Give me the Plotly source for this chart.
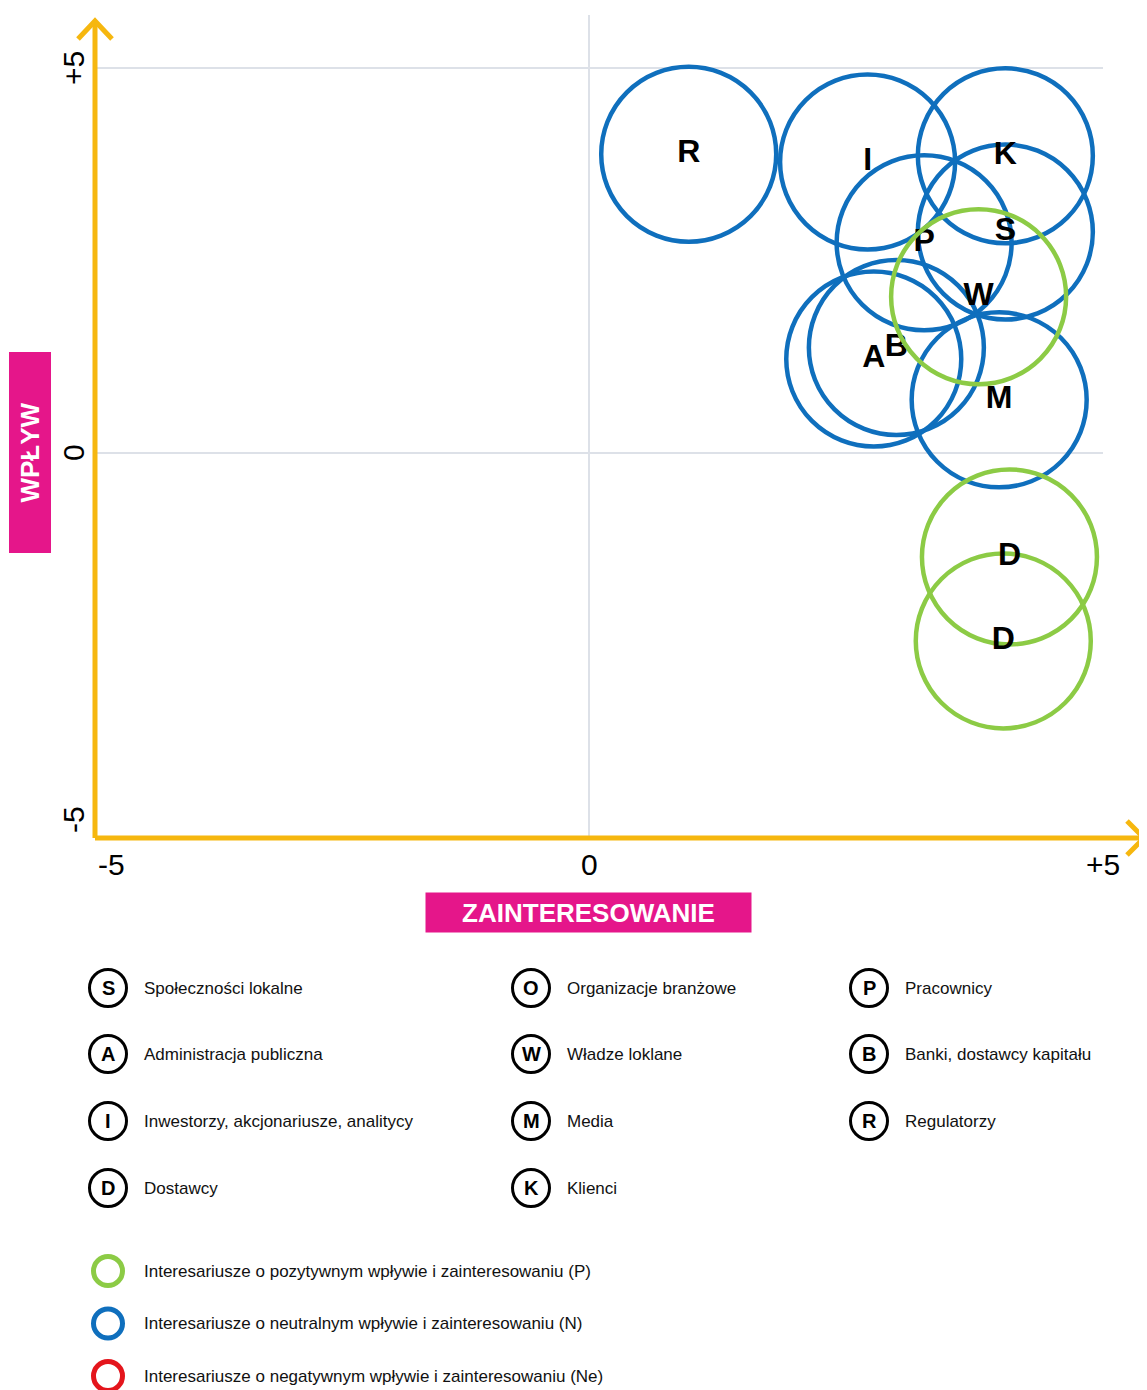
import plotly.graph_objects as go

# Stakeholder positions: interest (x) and influence (y), scale -5..+5
labels = ["R", "I", "K", "S", "P", "W", "A", "B", "M", "D", "D"]
interest = [0.97, 2.71, 4.05, 4.05, 3.26, 3.79, 2.77, 2.99, 3.99, 4.09, 4.03]
influence = [3.88, 3.78, 3.86, 2.87, 2.73, 2.03, 1.22, 1.37, 0.69, -1.35, -2.44]
group = ["N", "N", "N", "N", "N", "P", "N", "N", "N", "P", "P"]

# Legend entries (three columns)
legend_codes = [["S", "A", "I", "D"], ["O", "W", "M", "K"], ["P", "B", "R"]]
legend_names = [
    ["Społeczności lokalne", "Administracja publiczna",
     "Inwestorzy, akcjonariusze, analitycy", "Dostawcy"],
    ["Organizacje branżowe", "Władze loklane", "Media", "Klienci"],
    ["Pracownicy", "Banki, dostawcy kapitału", "Regulatorzy"],
]
group_codes = ["P", "N", "Ne"]
group_names = [
    "Interesariusze o pozytywnym wpływie i zainteresowaniu (P)",
    "Interesariusze o neutralnym wpływie i zainteresowaniu (N)",
    "Interesariusze o negatywnym wpływie i zainteresowaniu (Ne)",
]
group_colors = {"P": "#8CCB45", "N": "#0F6FBD", "Ne": "#E4151C"}

YELLOW = "#F6B70F"
MAGENTA = "#E5168A"
FONT = "Liberation Sans, Arial"

# page body adds an 8px margin, so the figure is shrunk by that much
OFF = 8
W, H = 1147 - OFF, 1390 - OFF
# plot area in screen pixels
SX0, SX1, SY0, SY1 = 95, 1103, 15, 838
PW, PH = SX1 - SX0, SY1 - SY0


def px(x):
    return (x - SX0) / PW


def py(y):
    return (SY1 - y) / PH


def note(x, y, text, **kw):
    d = dict(x=px(x), y=py(y), xref="paper", yref="paper", text=text,
             showarrow=False, xanchor="center", yanchor="middle")
    d.update(kw)
    return d


fig = go.Figure()

for g in ["N", "P"]:
    idx = [i for i, v in enumerate(group) if v == g]
    fig.add_trace(go.Scatter(
        x=[interest[i] for i in idx],
        y=[influence[i] for i in idx],
        text=[labels[i] for i in idx],
        mode="markers+text",
        textposition="middle center",
        textfont=dict(family=FONT, size=32, color="black", weight="bold"),
        marker=dict(symbol="circle-open", size=175, color=group_colors[g],
                    line=dict(width=4.5, color=group_colors[g])),
        showlegend=False,
        cliponaxis=False,
    ))

shapes = []
# Yellow axes with open arrowheads
shapes.append(dict(type="line", xref="paper", yref="paper", x0=0, y0=0,
                   x1=0, y1=py(22), line=dict(color=YELLOW, width=5)))
shapes.append(dict(type="line", xref="paper", yref="paper", x0=0, y0=0,
                   x1=px(1143), y1=0, line=dict(color=YELLOW, width=5)))
shapes.append(dict(type="path", xref="paper", yref="paper",
                   path=f"M {px(78)} {py(39)} L {px(95)} {py(21)} L {px(112)} {py(39)}",
                   line=dict(color=YELLOW, width=5)))
shapes.append(dict(type="path", xref="paper", yref="paper",
                   path=f"M {px(1127)} {py(821)} L {px(1144)} {py(838)} L {px(1127)} {py(855)}",
                   line=dict(color=YELLOW, width=5)))

annotations = []
tick_font = dict(family=FONT, size=30, color="black")
# y tick labels (rotated)
for val, txt, shift in [(5, "+5", 0), (0, "0", 0), (-5, "-5", 18)]:
    annotations.append(dict(x=px(73), xref="paper", y=val, yref="y", text=txt,
                            textangle=-90, showarrow=False, font=tick_font,
                            xanchor="center", yanchor="middle", yshift=shift))
# x tick labels
annotations.append(note(96, 864, "-5", xanchor="left", font=tick_font))
for val, txt in [(0, "0"), (5, "+5")]:
    annotations.append(dict(x=val, xref="x", y=py(864), yref="paper", text=txt,
                            showarrow=False, font=tick_font,
                            xanchor="center", yanchor="middle"))

# axis titles in magenta boxes
annotations.append(note(588.5, 912.5, "<b>ZAINTERESOWANIE</b>",
                        font=dict(family=FONT, size=26, color="white"),
                        bgcolor=MAGENTA, width=321, height=35, borderpad=2))
annotations.append(note(29.5, 453, "<b>WPŁYW</b>", textangle=-90,
                        font=dict(family=FONT, size=26, color="white"),
                        bgcolor=MAGENTA, width=196, height=37, borderpad=2))

# stakeholder legend
col_ring_x = [108, 531, 869]
row_y = [988, 1054, 1121, 1188]
for c, (codes, names) in enumerate(zip(legend_codes, legend_names)):
    for r, (code, name) in enumerate(zip(codes, names)):
        cx, cy = col_ring_x[c], row_y[r]
        shapes.append(dict(type="circle", xref="paper", yref="paper",
                           xsizemode="pixel", ysizemode="pixel",
                           xanchor=px(cx), yanchor=py(cy),
                           x0=-18.5, x1=18.5, y0=-18.5, y1=18.5,
                           line=dict(color="black", width=3)))
        annotations.append(note(cx, cy, f"<b>{code}</b>",
                                font=dict(family=FONT, size=20, color="black")))
        annotations.append(note(cx + 34, cy, name, xanchor="left",
                                font=dict(family=FONT, size=17, color="#111111")))

# colour legend
for k, (code, name) in enumerate(zip(group_codes, group_names)):
    cx, cy = 108, 1271 + k * 52.5
    shapes.append(dict(type="circle", xref="paper", yref="paper",
                       xsizemode="pixel", ysizemode="pixel",
                       xanchor=px(cx), yanchor=py(cy),
                       x0=-14.5, x1=14.5, y0=-14.5, y1=14.5,
                       line=dict(color=group_colors[code], width=5)))
    annotations.append(note(cx + 34, cy, name, xanchor="left",
                            font=dict(family=FONT, size=17, color="#111111")))

fig.update_layout(
    width=W, height=H,
    margin=dict(l=SX0 - OFF, r=W - (SX1 - OFF), t=SY0 - OFF, b=H - (SY1 - OFF)),
    plot_bgcolor="white", paper_bgcolor="white",
    shapes=shapes, annotations=annotations,
    xaxis=dict(range=[(SX0 - 589) / 102.8, 5.0], tickvals=[0, 5], showticklabels=False,
               showgrid=True, gridcolor="#DDE1E8", gridwidth=2, zeroline=False,
               showline=False, fixedrange=True),
    yaxis=dict(range=[-5, (453 - SY0) / 77], tickvals=[0, 5], showticklabels=False,
               showgrid=True, gridcolor="#DDE1E8", gridwidth=2, zeroline=False,
               showline=False, fixedrange=True),
)

fig.write_html("out.html")
